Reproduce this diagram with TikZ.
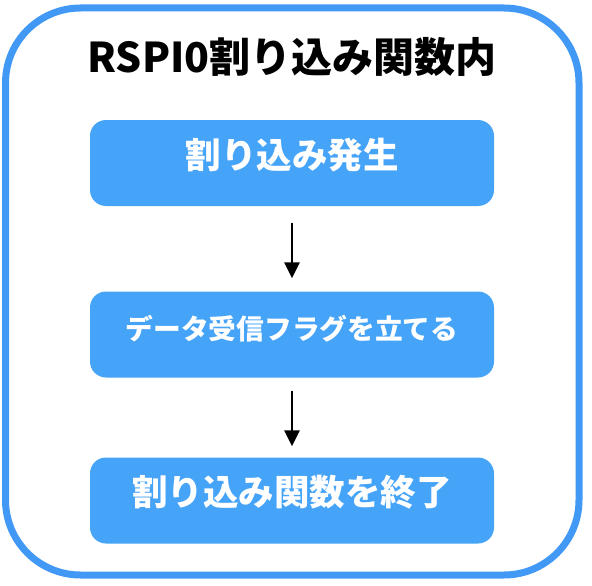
\documentclass[tikz,border=0pt]{standalone}
\usepackage{fontspec}
\newfontfamily\jpfont{Noto Sans CJK JP}
\usetikzlibrary{arrows.meta,positioning}
\definecolor{boxblue}{RGB}{69,163,248}
\definecolor{frameblue}{RGB}{66,153,245}

\begin{document}
\begin{tikzpicture}[x=1pt, y=-1pt,
	stepbox/.style={fill=boxblue, draw=none, rounded corners=16pt,
		minimum width=404pt, minimum height=86pt, inner sep=0pt},
	steptext/.style={text=white, font=\jpfont\bfseries\fontsize{#1}{#1}\selectfont},
	flow/.style={-{Triangle[length=16pt, width=15pt]}, line width=2.6pt, black}]

		\def\cx{292} % centre line of the flow
		\def\textup{8pt} % labels sit above the box centre

		% page size of the reference
		\useasboundingbox (0,0) rectangle (592,586);

		% outer frame
		\draw[frameblue, line width=7pt, rounded corners=75pt] (5.5,8) rectangle (579,575);

		% Title
		\node[font=\jpfont\bfseries\fontsize{41}{41}\selectfont] (title) at (\cx,57) {RSPI0割り込み関数内};

		% steps
		\node[stepbox, label={[steptext=35.5, yshift=\textup]center:割り込み発生}] (occur) at (\cx,163) {};
		\node[stepbox, label={[steptext=27.7, yshift=6pt]center:データ受信フラグを立てる}] (flag) at (\cx,334.5) {};
		\node[stepbox, label={[steptext=35.5, yshift=\textup]center:割り込み関数を終了}] (finish) at (\cx,500.5) {};

		% arrows between steps
		\draw[flow, shorten <=17pt, shorten >=13pt] (occur) -- (flag);
		\draw[flow, shorten <=13pt, shorten >=11pt] (flag) -- (finish);

	\end{tikzpicture}
\end{document}
